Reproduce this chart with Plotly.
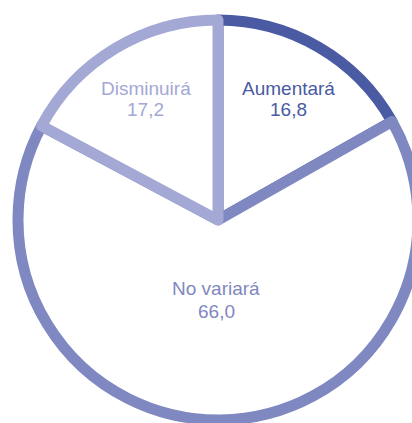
import plotly.graph_objects as go

# 数据
categories = ['Aumentará', 'No variará', 'Disminuirá']
values = [16.8, 66.0, 17.2]
line_colors = ['#4a5aa3', '#7f88c0', '#a3a8d4']

# 标签位置（paper坐标）
label_pos = [(0.675, 0.829, 0.775), (0.495, 0.33, 0.2725), (0.31875, 0.829, 0.775)]

fig = go.Figure()

fig.add_trace(go.Pie(
    labels=categories,
    values=values,
    sort=False,
    direction='clockwise',
    rotation=0,
    marker=dict(colors=['white'] * 3, line=dict(color=line_colors, width=11)),
    textinfo='none',
    hoverinfo='none',
    showlegend=False,
))

# 添加标签
for cat, val, col, (x, y1, y2) in zip(categories, values, line_colors, label_pos):
    font = dict(family='Liberation Sans', size=19, color=col)
    fig.add_annotation(x=x, y=y1, xref='paper', yref='paper', text=cat,
                       showarrow=False, font=font, xanchor='center', yanchor='middle')
    fig.add_annotation(x=x, y=y2, xref='paper', yref='paper', text=f'{val:.1f}'.replace('.', ','),
                       showarrow=False, font=font, xanchor='center', yanchor='middle')

fig.update_layout(
    width=440,
    height=440,
    margin=dict(l=18, r=22, t=20, b=20),
    paper_bgcolor='white',
    plot_bgcolor='white',
)

fig.write_html('out.html', config={'displayModeBar': False},
               post_script="document.body.style.overflow='hidden';document.body.style.margin='0';")
